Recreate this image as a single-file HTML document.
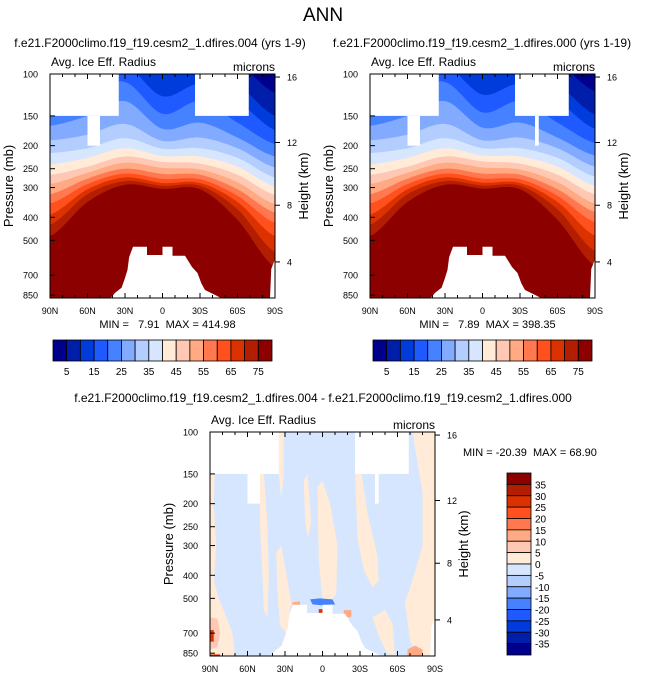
<!DOCTYPE html>
<html><head><meta charset="utf-8"><style>
body{margin:0;background:#fff;}
svg{display:block;font-family:"Liberation Sans",sans-serif;}
text{white-space:pre;}
</style></head><body>
<svg id="fig" width="647" height="680" viewBox="0 0 647 680" xmlns="http://www.w3.org/2000/svg">
<text x="323" y="21" font-size="19" text-anchor="middle">ANN</text>
<text x="160" y="47" font-size="12" text-anchor="middle">f.e21.F2000climo.f19_f19.cesm2_1.dfires.004 (yrs 1-9)</text>
<text x="482" y="47" font-size="12" text-anchor="middle">f.e21.F2000climo.f19_f19.cesm2_1.dfires.000 (yrs 1-19)</text>
<text x="323" y="402" font-size="12" text-anchor="middle">f.e21.F2000climo.f19_f19.cesm2_1.dfires.004 - f.e21.F2000climo.f19_f19.cesm2_1.dfires.000</text>
<g id="root"></g>
</svg>
<script>
// ---- data ----
const colors = ["#00008c","#001eaa","#003cdc","#1e5aff","#4682ff","#82aaff","#b4cdff","#d7e6ff","#ffebd7","#ffc8b4","#ffaa82","#ff7850","#ff501e","#dc3200","#b41e00","#8c0000"];
const cbarLabels = ["5","15","25","35","45","55","65","75"];
const diffLabels = ["35","30","25","20","15","10","5","0","-5","-10","-15","-20","-25","-30","-35"];
const latNodes = [90,60,30,0,-30,-60,-90];
const pressTicks = [100,150,200,250,300,400,500,700,850];
const heightTicks = [16,12,8,4];
const heightPress = [103,194,356,616];
const latTicks = [90,60,30,0,-30,-60,-90];
const latLabels = ["90N","60N","30N","0","30S","60S","90S"];
// contour boundary pressure (mb) between level k and k+1 at latNodes
const boundsA = [
 [80,80,80,80,80,90,120],
 [90,90,90,90,90,110,150],
 [120,100,92,124,110,130,172],
 [140,120,108,147,130,160,197],
 [165,150,130,170,160,185,222],
 [190,180,162,191,185,205,247],
 [215,205,186,206,205,225,272],
 [240,225,205,221,222,245,297],
 [265,245,222,234,238,265,322],
 [290,260,236,248,252,285,352],
 [320,275,250,263,265,305,382],
 [350,290,262,276,277,325,422],
 [390,305,272,287,287,345,480],
 [430,320,282,295,295,370,560],
 [480,345,292,304,305,410,650]
];
const boundsB = [
 [80,80,80,80,80,90,118],
 [90,90,90,90,90,110,148],
 [120,100,92,122,110,130,170],
 [140,120,108,145,130,160,195],
 [165,150,130,168,160,185,220],
 [190,180,162,190,185,205,245],
 [215,205,186,205,205,225,270],
 [240,225,205,220,222,245,295],
 [265,245,222,233,238,265,320],
 [290,260,236,247,252,285,350],
 [320,275,250,262,265,305,380],
 [350,290,262,275,277,325,420],
 [390,305,272,286,287,345,478],
 [430,320,282,294,295,370,555],
 [480,345,292,303,305,410,640]
];
const minA="7.91", maxA="414.98", minB="7.89", maxB="398.35";
// difference field: patches [colorIndex, [[lat,p],...]]
const diffPatches = [
 [8,[[90,140],[86,140],[87,200],[85,300],[87,420],[83,500],[78,580],[72,700],[70,880],[90,880]]],
 [8,[[50,146],[47,146],[44,250],[43,400],[44,600],[47,560],[48,400],[50,250]]],
 [8,[[37,320],[33,300],[28,420],[25,520],[29,700],[34,650],[36,480]]],
 [8,[[36,100],[31,100],[31,150],[33,190],[35,150]]],
 [8,[[15,160],[12,150],[9,240],[12,280],[14,230]]],
 [8,[[4,170],[0,160],[-6,200],[-12,300],[-11,480],[-5,520],[0,500],[3,350]]],
 [8,[[-26,146],[-31,146],[-36,220],[-44,330],[-45,420],[-40,450],[-33,380],[-28,280]]],
 [8,[[-72,100],[-90,100],[-90,880],[-76,880],[-70,750],[-66,520],[-72,420],[-80,300],[-80,180]]],
 [8,[[-40,600],[-50,560],[-56,640],[-58,860],[-52,860],[-45,720]]],
 [9,[[90,600],[84,610],[82,700],[84,800],[90,820]]],
 [13,[[90,680],[87,680],[87,760],[90,760]]],
 [13,[[90,860],[82,860],[82,880],[90,880]]],
 [10,[[-68,820],[-74,790],[-80,820],[-80,880],[-68,880]]],
 [4,[[10,505],[2,500],[-8,505],[-10,530],[0,535],[8,530]]],
 [13,[[3,555],[-3,555],[-3,575],[3,575]]],
 [10,[[-17,560],[-23,560],[-23,600],[-17,600]]],
 [10,[[24,520],[18,515],[18,535],[24,535]]]
];
const diffMin="-20.39", diffMax="68.90";
</script>
<script>
const NS="http://www.w3.org/2000/svg";
const root=document.getElementById('root');
function mk(tag,attrs,parent){const e=document.createElementNS(NS,tag);for(const k in attrs)e.setAttribute(k,attrs[k]);(parent||root).appendChild(e);return e;}
const W=225,H=224,DEC=238,PBOT=Math.pow(10,2+H/DEC);
function xs(ox){return lat=>ox+(90-lat)/180*W;}
function ys(oy){return p=>oy+(Math.log10(p)-2)*DEC;}
function interp(vals,lat){
 const lv=vals.map(v=>Math.log10(v));const t=(90-lat)/30;let i=Math.min(5,Math.floor(t));const f=t-i;
 const p0=lv[Math.max(0,i-1)],p1=lv[i],p2=lv[i+1],p3=lv[Math.min(6,i+2)];
 const v=0.5*((2*p1)+(-p0+p2)*f+(2*p0-5*p1+4*p2-p3)*f*f+(-p0+3*p1-3*p2+p3)*f*f*f);
 return Math.pow(10,v);
}
function axes(g,ox,oy,X,Y,cid){
 const fr=mk('rect',{x:ox,y:oy,width:W,height:H,fill:'none',stroke:'#000','stroke-width':1},g);
 
 for(let i=0;i<pressTicks.length;i++){const p=pressTicks[i],y=Y(p);
  mk('line',{x1:ox,x2:ox+5,y1:y,y2:y,stroke:'#000'},g);
  const t=mk('text',{x:ox-12,y:y+3.5,'font-size':9,'text-anchor':'end'},g);t.textContent=p;
  }
 for(let i=0;i<heightTicks.length;i++){const y=Y(heightPress[i]);
  mk('line',{x1:ox+W,x2:ox+W+5,y1:y,y2:y,stroke:'#000'},g);
  const t=mk('text',{x:ox+W+12,y:y+3.5,'font-size':9},g);t.textContent=heightTicks[i];
  }
 for(let lat=-90;lat<=90;lat+=10){const x=X(lat),maj=lat%30===0;
  mk('line',{x1:x,x2:x,y1:oy+H,y2:oy+H-(maj?5:3),stroke:'#000'},g);
  mk('line',{x1:x,x2:x,y1:oy,y2:oy+(maj?5:3),stroke:'#000'},g);}
 for(let i=0;i<latTicks.length;i++){const t=mk('text',{x:X(latTicks[i]),y:oy+H+16,'font-size':9,'text-anchor':'middle'},g);t.textContent=latLabels[i];
  }
 let t=mk('text',{x:0,y:0,'font-size':13,'text-anchor':'middle',transform:`translate(${ox-37},${oy+H/2}) rotate(-90)`},g);t.textContent='Pressure (mb)';
 
 t=mk('text',{x:0,y:0,'font-size':13,'text-anchor':'middle',transform:`translate(${ox+W+33},${oy+H/2}) rotate(-90)`},g);t.textContent='Height (km)';
 
 t=mk('text',{x:ox+1,y:oy-8,'font-size':12},g);t.textContent='Avg. Ice Eff. Radius';
 
 t=mk('text',{x:ox+W,y:oy-3,'font-size':12,'text-anchor':'end'},g);t.textContent='microns';
 
}
function masks(g,ox,oy,X,Y,extraNotch){
 const polys=[
  [[90,100],[35,100],[35,150],[90,150]],
  [[60,150],[50,150],[50,200],[60,200]],
  [[-26,100],[-69,100],[-69,150],[-26,150]],
  [[44,PBOT],[42,880],[38,831],[32.7,790],[30,720],[28,665],[26.7,588],[23.6,532],[12.4,532],[12.4,576],[0,576],[0,532],[-8,532],[-8,580],[-18,580],[-23.6,647],[-28,686],[-31,756],[-34,808],[-42,847],[-48,880],[-50,PBOT]],
  [[-87,660],[-90,600],[-90,PBOT],[-86,PBOT]],
  [[90,875],[90,PBOT],[60,PBOT]]
 ];
 if(extraNotch)polys.push([[-42,150],[-45,150],[-45,200],[-42,200]]);
 polys.forEach(pl=>{const e=mk('polygon',{points:pl.map(q=>X(q[0])+','+Y(q[1])).join(' '),fill:'#fff'},g);
  });
}
function panel(ox,oy,bounds,mn,mx,id,notch){
 const X=xs(ox),Y=ys(oy);
 const g=mk('g',{});
 mk('clipPath',{id:'c'+id},g);mk('rect',{x:ox,y:oy,width:W,height:H},g.lastChild);
 const f=mk('g',{'clip-path':`url(#c${id})`},g);
 const bg=mk('rect',{x:ox,y:oy,width:W,height:H,fill:colors[15]},f);
 
 for(let b=bounds.length-1;b>=0;b--){
  let d=`M${X(90)},${oy-2}`;
  for(let lat=90;lat>=-90;lat-=2)d+=`L${X(lat).toFixed(1)},${Y(interp(bounds[b],lat)).toFixed(1)}`;
  d+=`L${X(-90)},${oy-2}Z`;
  const e=mk('path',{d:d,fill:colors[b]},f);
  
 }
 masks(f,ox,oy,X,Y,notch);
 axes(g,ox,oy,X,Y,id);
 const t=mk('text',{x:ox+W/2+5,y:oy+H+30,'font-size':11,'text-anchor':'middle'},g);
 t.textContent=`MIN =   ${mn}  MAX = ${mx}`;
 const cx=ox+3,cy=oy+H+42,cw=219/16;
 for(let i=0;i<16;i++){const r=mk('rect',{x:cx+i*cw,y:cy,width:cw,height:21,fill:colors[i],stroke:'#000','stroke-width':0.8},g);
  }
 for(let i=0;i<cbarLabels.length;i++){const l=mk('text',{x:cx+(2*i+1)*cw,y:cy+35,'font-size':10,'text-anchor':'middle'},g);l.textContent=cbarLabels[i];
  }
}
panel(50,74,boundsA,minA,maxA,'a',false);
panel(370,74,boundsB,minB,maxB,'b',true);
(function(){
 const ox=210,oy=432,X=xs(ox),Y=ys(oy);
 const g=mk('g',{});
 mk('clipPath',{id:'cd'},g);mk('rect',{x:ox,y:oy,width:W,height:H},g.lastChild);
 const f=mk('g',{'clip-path':'url(#cd)'},g);
 const bg=mk('rect',{x:ox,y:oy,width:W,height:H,fill:colors[7]},f);
 
 diffPatches.forEach(pt=>{const e=mk('polygon',{points:pt[1].map(q=>X(q[0])+','+Y(q[1])).join(' '),fill:colors[pt[0]],'stroke-linejoin':'round'},f);
  });
 masks(f,ox,oy,X,Y,true);
 axes(g,ox,oy,X,Y,'d');
 const t=mk('text',{x:463,y:456,'font-size':11},g);t.textContent=`MIN = ${diffMin}  MAX = ${diffMax}`;
 
 const cx=507,cy=473,ch=182/16;
 for(let i=0;i<16;i++){const r=mk('rect',{x:cx,y:cy+i*ch,width:24,height:ch,fill:colors[15-i],stroke:'#000','stroke-width':0.8},g);
  }
 for(let i=0;i<diffLabels.length;i++){const l=mk('text',{x:535,y:cy+(i+1)*ch+4,'font-size':10},g);l.textContent=diffLabels[i];
  }
})();
</script>
</body></html>
